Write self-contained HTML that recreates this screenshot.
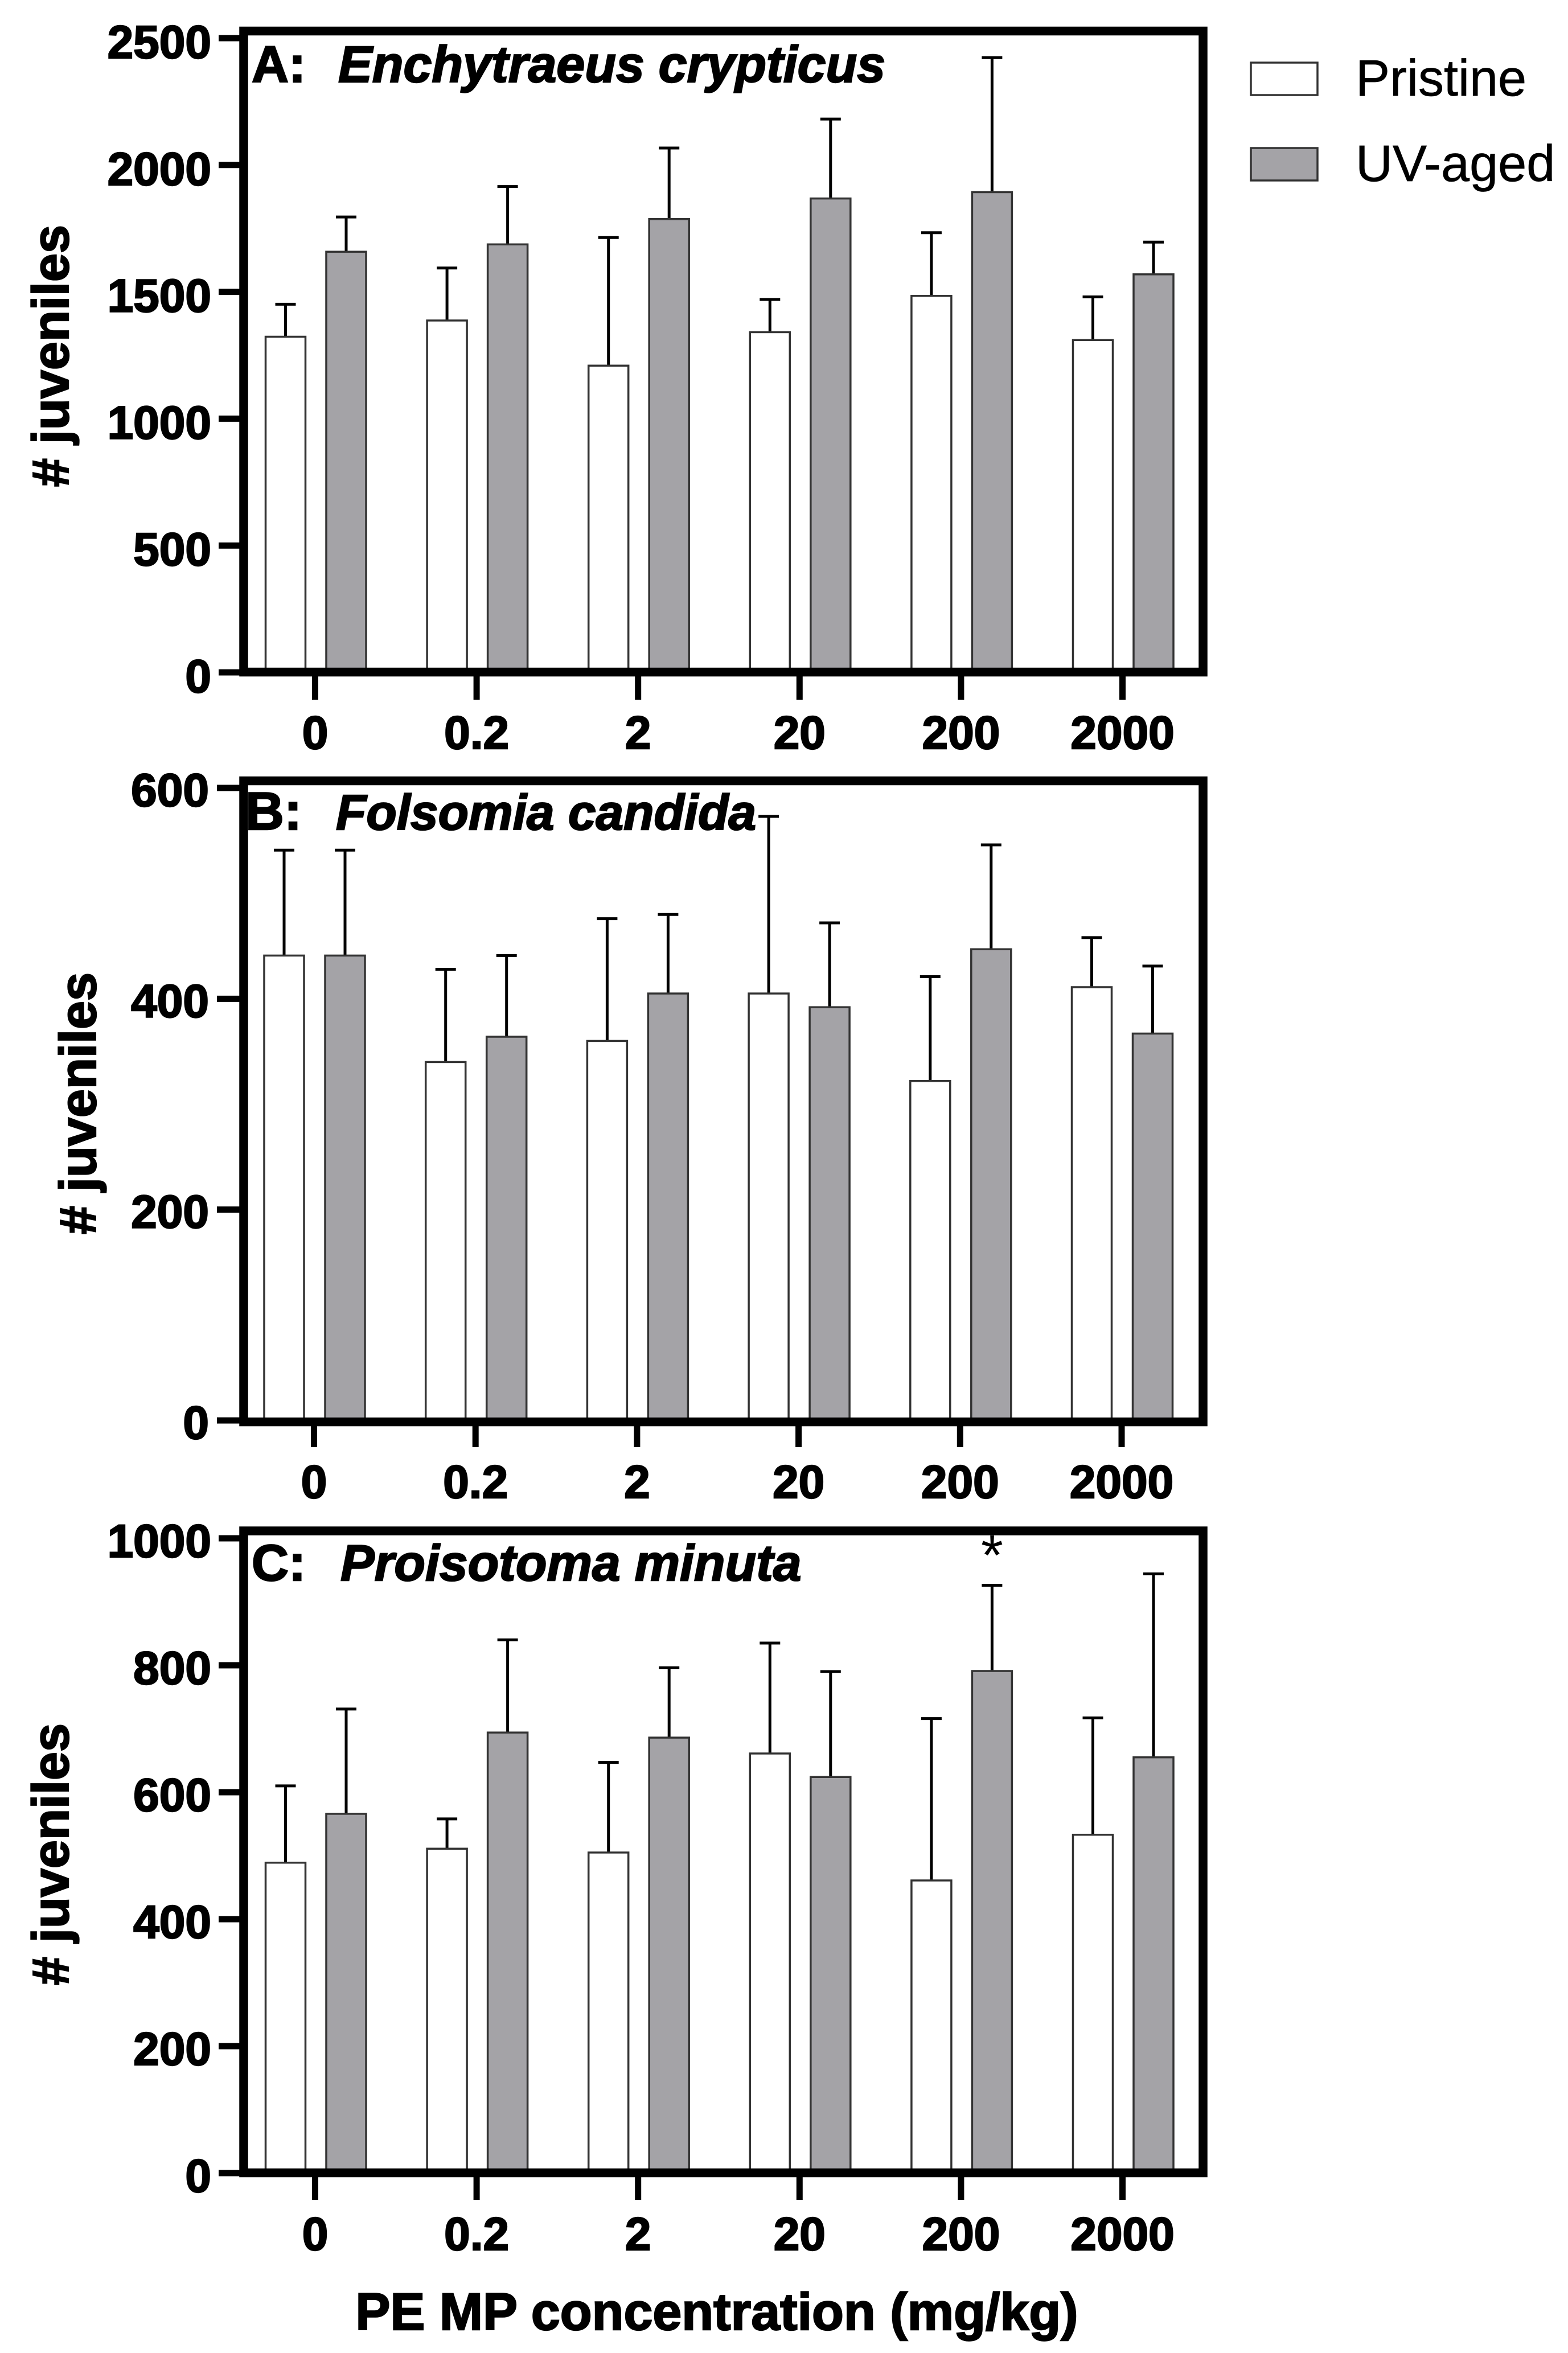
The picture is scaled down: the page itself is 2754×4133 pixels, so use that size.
<!DOCTYPE html>
<html lang="en">
<head>
<meta charset="utf-8">
<title>Juvenile counts by PE MP concentration</title>
<style>
html,body{margin:0;padding:0;background:#fff;}
svg{display:block;}
text{font-family:"Liberation Sans",Arial,sans-serif;fill:#000;}
text.heavy{stroke:#000;stroke-width:2.4px;}
text.legend{stroke:#000;stroke-width:0.7px;}
</style>
</head>
<body>
<svg id="figure" xmlns="http://www.w3.org/2000/svg" width="2754" height="4133" viewBox="0 0 2754 4133"></svg>
<script>
const categories = ["0", "0.2", "2", "20", "200", "2000"];

const ticksA = [0, 500, 1000, 1500, 2000, 2500];
const pristineA = [1323, 1387, 1209, 1341, 1484, 1310];
const pristineUpperA = [1451, 1594, 1714, 1470, 1733, 1480];
const agedA = [1658, 1687, 1787, 1868, 1893, 1569];
const agedUpperA = [1795, 1915, 2067, 2181, 2423, 1696];

const ticksB = [0, 200, 400, 600];
const pristineB = [441, 340, 360, 405, 322, 411];
const pristineUpperB = [541, 428, 476, 573, 421, 458];
const agedB = [441, 364, 405, 392, 447, 367];
const agedUpperB = [541, 441, 480, 472, 546, 431];

const ticksC = [0, 200, 400, 600, 800, 1000];
const pristineC = [489, 511, 505, 661, 461, 533];
const pristineUpperC = [610, 558, 647, 835, 716, 717];
const agedC = [566, 694, 686, 624, 791, 655];
const agedUpperC = [731, 840, 796, 790, 926, 944];

const svg = document.getElementById("figure");
const NS = "http://www.w3.org/2000/svg";

function mk(tag, attrs, parent) {
  const el = document.createElementNS(NS, tag);
  for (const k in attrs) el.setAttribute(k, attrs[k]);
  (parent || svg).appendChild(el);
  return el;
}

function yScale(p, v) {
  return p.y0 - v * (p.y0 - p.yTop) / p.max;
}
function xScale(p, i) {
  return p.x0 + i * p.dx;
}

function drawPanel(p) {
  const g = mk("g", {});
  
  

  // bars and error bars
  p.categories.forEach(function (cat, i) {
    const cx = xScale(p, i);
    [
      { key: "pristine", vals: p.pristine, upper: p.pristineUpper, off: p.whiteOff, fill: "#ffffff" },
      { key: "uv-aged", vals: p.aged, upper: p.agedUpper, off: p.grayOff, fill: "#a4a3a7" }
    ].forEach(function (s) {
      const c = cx + s.off;
      const top = yScale(p, s.vals[i]);
      const up = yScale(p, s.upper[i]);

      const stem = mk("line", { x1: c, x2: c, y1: top, y2: up, stroke: "#000", "stroke-width": 5 }, g);
      
      

      const cap = mk("line", { x1: c - 18, x2: c + 18, y1: up, y2: up, stroke: "#000", "stroke-width": 5 }, g);
      
      

      const bar = mk("rect", { x: c - 35, y: top, width: 70, height: p.y0 - top, fill: s.fill, stroke: "#333", "stroke-width": 3.5 }, g);
      
      
    });
  });

  // frame
  const frame = mk("rect", { x: 428, y: p.frameTop, width: 1685, height: p.frameBottom - p.frameTop, fill: "none", stroke: "#000", "stroke-width": 15.5 }, g);
  
  

  // y ticks
  p.ticks.forEach(function (t) {
    const y = yScale(p, t);
    const tick = mk("line", { x1: p.tickLeft, x2: 421, y1: y, y2: y, stroke: "#000", "stroke-width": 11 }, g);
    
    

    const lab = mk("text", { class: "heavy", x: p.labelRight, y: y + p.labelOffset + 30, "text-anchor": "end", "font-size": 82, "font-weight": 700 }, g);
    lab.textContent = String(t);
    
    
  });

  // x ticks
  p.categories.forEach(function (cat, i) {
    const x = xScale(p, i);
    const tick = mk("line", { x1: x, x2: x, y1: p.frameBottom + 5, y2: p.xTickEnd, stroke: "#000", "stroke-width": 11 }, g);
    
    

    const lab = mk("text", { class: "heavy", x: x, y: p.xLabelBase, "text-anchor": "middle", "font-size": 82, "font-weight": 700 }, g);
    lab.textContent = cat;
    
    
  });

  // y axis title
  const yt = mk("text", { class: "heavy", transform: "translate(" + p.yTitleX + "," + p.yTitleY + ") rotate(-90)", "text-anchor": "middle", "font-size": 90, "font-weight": 700 }, g);
  yt.textContent = "# juveniles";
  
  

  // panel titles
  const letter = mk("text", { class: "heavy", x: p.letterX, y: p.titleBase, "font-size": p.letterSize, "font-weight": 700 }, g);
  letter.textContent = p.letter;
  
  

  const sp = mk("text", { class: "heavy", x: p.speciesX, y: p.titleBase, "font-size": p.speciesSize, "font-weight": 700, "font-style": "italic" }, g);
  sp.textContent = p.species;
  
  
}

drawPanel({
  id: "a", letter: "A:", letterSize: 90, species: "Enchytraeus crypticus", speciesX: 594, speciesSize: 89.6, letterX: 442, titleBase: 144,
  categories: categories, ticks: ticksA, pristine: pristineA, pristineUpper: pristineUpperA, aged: agedA, agedUpper: agedUpperA,
  max: 2500, y0: 1181, yTop: 67, x0: 553.5, dx: 283.6, whiteOff: -52, grayOff: 54.5,
  frameTop: 54.5, frameBottom: 1180.5, tickLeft: 384, labelRight: 371, labelOffset: 5,
  xTickEnd: 1229, xLabelBase: 1315, yTitleX: 120, yTitleY: 625
});

drawPanel({
  id: "b", letter: "B:", letterSize: 94, species: "Folsomia candida", speciesX: 590, speciesSize: 87.4, letterX: 431, titleBase: 1457,
  categories: categories, ticks: ticksB, pristine: pristineB, pristineUpper: pristineUpperB, aged: agedB, agedUpper: agedUpperB,
  max: 600, y0: 2495, yTop: 1384, x0: 551.5, dx: 283.7, whiteOff: -52.5, grayOff: 54.5,
  frameTop: 1371.5, frameBottom: 2497.5, tickLeft: 381, labelRight: 367, labelOffset: 2,
  xTickEnd: 2542, xLabelBase: 2631, yTitleX: 168, yTitleY: 1938
});

drawPanel({
  id: "c", letter: "C:", letterSize: 90, species: "Proisotoma minuta", speciesX: 598, speciesSize: 89.4, letterX: 442, titleBase: 2776,
  categories: categories, ticks: ticksC, pristine: pristineC, pristineUpper: pristineUpperC, aged: agedC, agedUpper: agedUpperC,
  max: 1000, y0: 3817, yTop: 2702, x0: 553.5, dx: 283.6, whiteOff: -52, grayOff: 54.5,
  frameTop: 2689, frameBottom: 3816.5, tickLeft: 384, labelRight: 371, labelOffset: 3,
  xTickEnd: 3864, xLabelBase: 3952, yTitleX: 120, yTitleY: 3257
});

// significance marker above UV-aged 200 in panel C
const star = mk("text", { x: 553.5 + 4 * 283.6 + 54.5, y: 2766, "text-anchor": "middle", "font-size": 100 });
star.textContent = "*";



// x axis title
const xTitle = mk("text", { class: "heavy", x: 1259, y: 4092, "text-anchor": "middle", "font-size": 91.5, "font-weight": 700 });
xTitle.textContent = "PE MP concentration (mg/kg)";



// legend
const legendPristineSwatch = mk("rect", { x: 2197, y: 110, width: 117, height: 57, fill: "#ffffff", stroke: "#333", "stroke-width": 3.5 });



const legendPristineText = mk("text", { class: "legend", x: 2381, y: 168, "font-size": 90 });
legendPristineText.textContent = "Pristine";



const legendAgedSwatch = mk("rect", { x: 2197, y: 260, width: 117, height: 57, fill: "#a4a3a7", stroke: "#333", "stroke-width": 3.5 });



const legendAgedText = mk("text", { class: "legend", x: 2381, y: 318, "font-size": 90 });
legendAgedText.textContent = "UV-aged";


</script>
</body>
</html>
